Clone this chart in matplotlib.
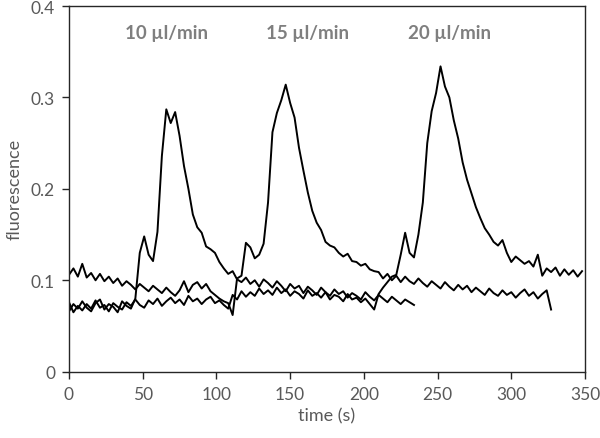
import numpy as np
import matplotlib

matplotlib.use("Agg")
import matplotlib.pyplot as plt
from matplotlib.ticker import FuncFormatter

STEP_S = 3.0  # sampling interval used when reading the traces (s)

# 10 ul/min run, t = 0 .. 234 s
flow_10 = [
    0.066, 0.074, 0.069, 0.077, 0.070, 0.066, 0.075, 0.079, 0.068, 0.074, 0.071, 0.065, 0.077, 0.072, 0.069, 0.080,
    0.130, 0.148, 0.128, 0.121, 0.153, 0.236, 0.287, 0.272, 0.284, 0.258, 0.225, 0.200, 0.172, 0.158, 0.152, 0.137,
    0.134, 0.130, 0.120, 0.113, 0.107, 0.110, 0.101, 0.098,
    0.103, 0.096, 0.100, 0.093, 0.101, 0.097, 0.092, 0.099, 0.094, 0.088, 0.096, 0.091, 0.094, 0.086, 0.093, 0.089,
    0.084, 0.092, 0.087, 0.083, 0.090, 0.085, 0.088, 0.081, 0.086, 0.083, 0.079, 0.087, 0.082, 0.078, 0.084, 0.080,
    0.076, 0.082, 0.078, 0.074, 0.079, 0.076, 0.073,
]

# 15 ul/min run, t = 0 .. 327 s
flow_15 = [
    0.106, 0.113, 0.104, 0.118, 0.103, 0.108, 0.100, 0.107, 0.099, 0.104, 0.097, 0.102, 0.094, 0.099, 0.095, 0.090,
    0.096, 0.092, 0.088, 0.094, 0.090, 0.086, 0.092, 0.087, 0.083, 0.089, 0.099, 0.087, 0.095, 0.098, 0.091, 0.096,
    0.088, 0.084, 0.080, 0.077,
    0.075, 0.062, 0.102, 0.105, 0.141, 0.136, 0.124, 0.128, 0.140, 0.185, 0.262, 0.283, 0.297, 0.314, 0.294, 0.278,
    0.245, 0.220, 0.196, 0.176, 0.163, 0.155, 0.142, 0.138, 0.136, 0.130, 0.126, 0.129, 0.121, 0.120, 0.116, 0.118,
    0.112, 0.110,
    0.109, 0.102, 0.107, 0.100, 0.105, 0.098, 0.104, 0.099, 0.096, 0.102, 0.097, 0.093, 0.099, 0.095, 0.091, 0.098,
    0.093, 0.089, 0.095, 0.090, 0.094, 0.087, 0.092, 0.088, 0.084, 0.091, 0.086, 0.083, 0.089, 0.084, 0.087, 0.081,
    0.086, 0.090, 0.083, 0.087, 0.080, 0.085, 0.089, 0.068,
]

# 20 ul/min run, t = 0 .. 348 s
flow_20 = [
    0.076, 0.065, 0.072, 0.067, 0.074, 0.069, 0.078, 0.070, 0.073, 0.066, 0.075, 0.071, 0.068, 0.076, 0.072, 0.079,
    0.073, 0.070, 0.078, 0.074, 0.080, 0.072, 0.077, 0.081, 0.075, 0.079, 0.073, 0.083, 0.077, 0.080, 0.074, 0.079,
    0.082, 0.075, 0.078, 0.073, 0.069, 0.084, 0.079, 0.088, 0.082, 0.087, 0.083, 0.091, 0.085, 0.089, 0.084, 0.092,
    0.086, 0.090, 0.083, 0.088, 0.085, 0.080, 0.089, 0.083, 0.086, 0.081, 0.087, 0.079, 0.084, 0.082, 0.077, 0.085,
    0.079, 0.081, 0.076, 0.080, 0.074,
    0.068, 0.085, 0.092, 0.098, 0.104, 0.106, 0.128, 0.152, 0.130, 0.125, 0.150, 0.185, 0.250, 0.285, 0.305, 0.334,
    0.312, 0.300, 0.275, 0.255, 0.229, 0.210, 0.195, 0.180, 0.168, 0.157, 0.150, 0.142, 0.138, 0.144, 0.130, 0.120,
    0.126, 0.122, 0.118, 0.121, 0.115, 0.128, 0.105, 0.113, 0.109, 0.114, 0.105, 0.112, 0.106, 0.111, 0.104, 0.110,
]

run_labels = ["10 \u00b5l/min", "15 \u00b5l/min", "20 \u00b5l/min"]
label_x = [66, 162, 258]
label_y = 0.371

GREY = "#7f7f7f"
TICK_GREY = "#595959"

plt.rcParams["font.family"] = ["Lato", "DejaVu Sans"]

fig = plt.figure(figsize=(6.0, 4.39), dpi=100)
ax = fig.add_axes([0.115, 0.151, 0.86, 0.833])

for values in (flow_10, flow_15, flow_20):
    t = np.arange(len(values)) * STEP_S
    ax.plot(t, values, color="black", linewidth=1.4, solid_joinstyle="round")

for text, x in zip(run_labels, label_x):
    ax.text(x, label_y, text, ha="center", va="center", fontsize=13.5, fontweight="bold", color=GREY)

ax.set_xlim(0, 350)
ax.set_ylim(0, 0.4)
ax.set_xticks(np.arange(0, 351, 50))
ax.set_yticks([0, 0.1, 0.2, 0.3, 0.4])
ax.yaxis.set_major_formatter(FuncFormatter(lambda v, _: "0" if v == 0 else f"{v:.1f}"))
ax.tick_params(direction="out", length=5, width=1, color="#262626", labelcolor=TICK_GREY, labelsize=12.5, pad=5)
for spine in ax.spines.values():
    spine.set_color("#262626")
    spine.set_linewidth(1.0)

ax.set_xlabel("time (s)", color=TICK_GREY, fontsize=13, labelpad=4)
ax.set_ylabel("fluorescence", color=TICK_GREY, fontsize=13, labelpad=6)

fig.savefig("out.png", dpi=100)
